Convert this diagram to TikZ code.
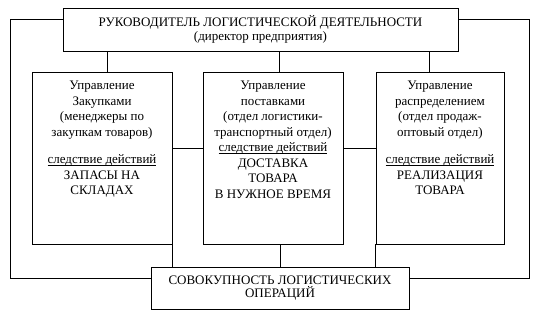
\documentclass[tikz,border=0pt]{standalone}
\usepackage{fontspec}
\setmainfont{Liberation Serif}
\usetikzlibrary{calc}
\newcommand{\undl}[1]{\setbox0\hbox{#1}\rlap{\rule[-1.8pt]{\wd0}{0.6pt}}\box0}

\begin{document}
\begin{tikzpicture}[x=1pt,y=1pt,font=\fontsize{13}{15.5}\selectfont,
 box/.style={draw,line width=.8pt,inner sep=0pt},
 inbox/.style={anchor=north,align=center,inner sep=0pt},
 link/.style={draw,line width=.8pt}]
\path[use as bounding box] (0,0) rectangle (536,316);
\node[box,minimum width=395pt,minimum height=43pt,align=center] (lead) at (260.5,286.5) {РУКОВОДИТЕЛЬ ЛОГИСТИЧЕСКОЙ ДЕЯТЕЛЬНОСТИ\\[-1pt](директор предприятия)};
\node[box,minimum width=140pt,minimum height=172pt] (buy) at (102,158) {};
\node[box,minimum width=140pt,minimum height=172pt] (ship) at (273,158) {};
\node[box,minimum width=128pt,minimum height=172pt] (sell) at (440,158) {};
\node[box,minimum width=258pt,minimum height=42pt,align=center] (ops) at (280,28) {СОВОКУПНОСТЬ ЛОГИСТИЧЕСКИХ\\[-2.5pt]ОПЕРАЦИЙ};
\node[inbox] (buyt) at ([yshift=-9.5pt]buy.north) {Управление\\Закупками\\(менеджеры по\\закупкам товаров)\\[12pt]\undl{следствие действий}\\ЗАПАСЫ НА\\СКЛАДАХ};
\node[inbox] (shipt) at ([yshift=-9.5pt]ship.north) {Управление\\поставками\\(отдел логистики-\\транспортный отдел)\\\undl{следствие действий}\\ДОСТАВКА\\ТОВАРА\\В НУЖНОЕ ВРЕМЯ};
\node[inbox] (sellt) at ([yshift=-9.5pt]sell.north) {Управление\\распределением\\(отдел продаж-\\оптовый отдел)\\[12pt]\undl{следствие действий}\\РЕАЛИЗАЦИЯ\\ТОВАРА};
\coordinate (loopl) at (10,38);
\coordinate (loopr) at (529,38);
\draw[link] ([xshift=5pt]buy.north) -- ([xshift=5pt]buy.north |- lead.south);
\draw[link] ([xshift=6pt]ship.north) -- ([xshift=6pt]ship.north |- lead.south);
\draw[link] ([xshift=-11pt]sell.north) -- ([xshift=-11pt]sell.north |- lead.south);
\draw[link] ([yshift=10pt]buy.east) -- ([yshift=10pt]buy.east -| ship.west);
\draw[link] ([yshift=10pt]ship.east) -- ([yshift=10pt]ship.east -| sell.west);
\draw[link] (buy.south east) -- (buy.south east |- ops.north);
\draw[link] ([xshift=7pt]ship.south) -- ([xshift=7pt]ship.south |- ops.north);
\draw[link] (sell.south west) -- (sell.south west |- ops.north);
\draw[link] ([yshift=10.5pt]lead.west) -| (loopl) -- (loopl -| ops.west);
\draw[link] ([yshift=10.5pt]lead.east) -| (loopr) -- (loopr -| ops.east);
\end{tikzpicture}
\end{document}
